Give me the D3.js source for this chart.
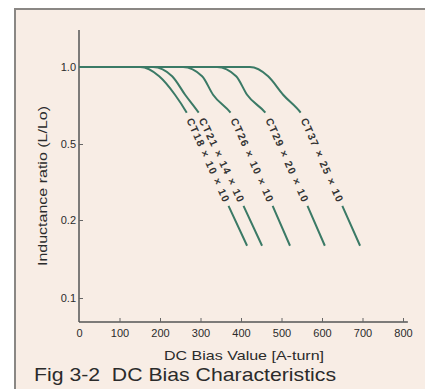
<!DOCTYPE html>
<html>
<head>
<meta charset="utf-8">
<script src="https://cdn.jsdelivr.net/npm/d3@7"></script>
<style>
  body { margin: 0; background: #fff; }
  svg { display: block; font-family: "Liberation Sans", Arial, sans-serif; }
</style>
</head>
<body>
<div id="chart"></div>
<script>
// Core names, as printed along each curve
const cores = ["CT18 × 10 × 10", "CT21 × 14 × 10", "CT26 × 10 × 10", "CT29 × 20 × 10", "CT37 × 25 × 10"];

// DC bias (A-turn) where each curve passes the ratio levels below
const ratioLevels = [1.0, 1.0, 0.94, 0.82, 0.69, 0.26, 0.167];
const biasCT18 = [0, 151, 198, 237, 269, 368, 415];
const biasCT21 = [0, 183, 230, 262, 299, 405, 452];
const biasCT26 = [0, 257, 304, 331, 378, 477, 521];
const biasCT29 = [0, 341, 388, 415, 464, 563, 607];
const biasCT37 = [0, 422, 467, 504, 551, 649, 694];
const biasSeries = [biasCT18, biasCT21, biasCT26, biasCT29, biasCT37];
// the label runs between these two points of each curve
const labelFrom = 4, labelTo = 5;

// Axis ticks
const xTicks = [0, 100, 200, 300, 400, 500, 600, 700, 800];
const yTicks = [0.1, 0.2, 0.5, 1.0];
const yTickLabels = ["0.1", "0.2", "0.5", "1.0"];

const width = 425, height = 389;
const bg = "#f8ede5", lineColor = "#3b7a66", ink = "#2b2b2b";

const svg = d3.select("#chart").append("svg")
  .attr("width", width)
  .attr("height", height);

// Paper background with a frame on the top and left
svg.append("rect").attr("x", 14).attr("y", 8).attr("width", width - 14).attr("height", height - 8)
  .attr("fill", bg);
svg.append("path").attr("d", `M15,${height} V9 H${width}`)
  .attr("fill", "none").attr("stroke", "#8a8784").attr("stroke-width", 2);

// Scales: the y axis spaces 0.1, 0.2, 0.5 and 1.0 evenly
const x = d3.scaleLinear().domain([0, 800]).range([79, 403]);
const y = d3.scaleLinear().domain(yTicks).range([298, 220, 144, 67]);
const axisY = 322, axisTop = 30;

// Axis lines
svg.append("line").attr("x1", x(0)).attr("x2", x(0)).attr("y1", axisTop).attr("y2", axisY)
  .attr("stroke", "#555").attr("stroke-width", 1.5);
svg.append("line").attr("x1", x(0)).attr("x2", x(812)).attr("y1", axisY).attr("y2", axisY)
  .attr("stroke", "#555").attr("stroke-width", 1.5);

// X axis ticks (pointing inward)
const gx = svg.append("g")
  .attr("transform", `translate(0,${axisY})`)
  .call(d3.axisBottom(x).tickValues(xTicks).tickSize(-4).tickPadding(7).tickFormat(d3.format("d")));
gx.select(".domain").remove();
gx.selectAll(".tick line").attr("stroke", "#666").filter(d => d === 0).remove();
gx.selectAll("text").attr("font-size", 11).attr("fill", ink)
  .attr("font-family", "Liberation Sans, Arial, sans-serif");

// Y axis ticks (pointing inward)
const gy = svg.append("g")
  .attr("transform", `translate(${x(0)},0)`)
  .call(d3.axisLeft(y).tickValues(yTicks).tickSize(-4).tickPadding(3)
    .tickFormat((d, i) => yTickLabels[i]));
gy.select(".domain").remove();
gy.selectAll(".tick line").attr("stroke", "#666");
gy.selectAll("text").attr("font-size", 11).attr("fill", ink)
  .attr("font-family", "Liberation Sans, Arial, sans-serif");

// Axis titles
svg.append("text")
  .attr("x", 244).attr("y", 360)
  .attr("text-anchor", "middle")
  .attr("font-size", 13).attr("fill", ink)
  .attr("textLength", 160).attr("lengthAdjust", "spacingAndGlyphs")
  .text("DC Bias Value [A-turn]");

svg.append("text")
  .attr("transform", "translate(47,186) rotate(-90)")
  .attr("text-anchor", "middle")
  .attr("font-size", 12.5).attr("fill", ink)
  .attr("textLength", 160).attr("lengthAdjust", "spacingAndGlyphs")
  .text("Inductance ratio (L/Lo)");

// Figure caption
svg.append("text")
  .attr("x", 34).attr("y", 381)
  .attr("font-size", 19).attr("fill", ink)
  .attr("xml:space", "preserve")
  .style("white-space", "pre")
  .attr("textLength", 302).attr("lengthAdjust", "spacingAndGlyphs")
  .text("Fig 3-2  DC Bias Characteristics");

// Curves, with a gap where the label is written along them
const line = d3.line()
  .x(d => x(d[0]))
  .y(d => y(d[1]))
  .curve(d3.curveMonotoneX);

function lengthAtY(node, targetY) {
  const total = node.getTotalLength();
  let lo = 0, hi = total;
  for (let i = 0; i < 40; i++) {
    const mid = (lo + hi) / 2;
    if (node.getPointAtLength(mid).y < targetY) lo = mid; else hi = mid;
  }
  return lo;
}

biasSeries.forEach((bias, k) => {
  const pts = bias.map((b, i) => [b, ratioLevels[i]]);
  const path = svg.append("path")
    .attr("d", line(pts))
    .attr("fill", "none")
    .attr("stroke", lineColor)
    .attr("stroke-width", 2);

  const x1 = x(bias[labelFrom]), y1 = y(ratioLevels[labelFrom]);
  const x2 = x(bias[labelTo]), y2 = y(ratioLevels[labelTo]);
  const node = path.node();
  const total = node.getTotalLength();
  const l1 = lengthAtY(node, y1 - 2);
  const l2 = lengthAtY(node, y2 + 1);
  path.attr("stroke-dasharray", `${l1} ${l2 - l1} ${total}`);

  const ang = Math.atan2(y2 - y1, x2 - x1) * 180 / Math.PI;
  svg.append("text")
    .attr("transform", `translate(${(x1 + x2) / 2},${(y1 + y2) / 2}) rotate(${ang})`)
    .attr("text-anchor", "middle")
    .attr("dy", "0.35em")
    .attr("font-size", 10.5)
    .attr("font-weight", "bold")
    .attr("fill", "#333")
    .attr("textLength", Math.hypot(x2 - x1, y2 - y1) - 8)
    .attr("lengthAdjust", "spacing")
    .text(cores[k]);
});
</script>
</body>
</html>
